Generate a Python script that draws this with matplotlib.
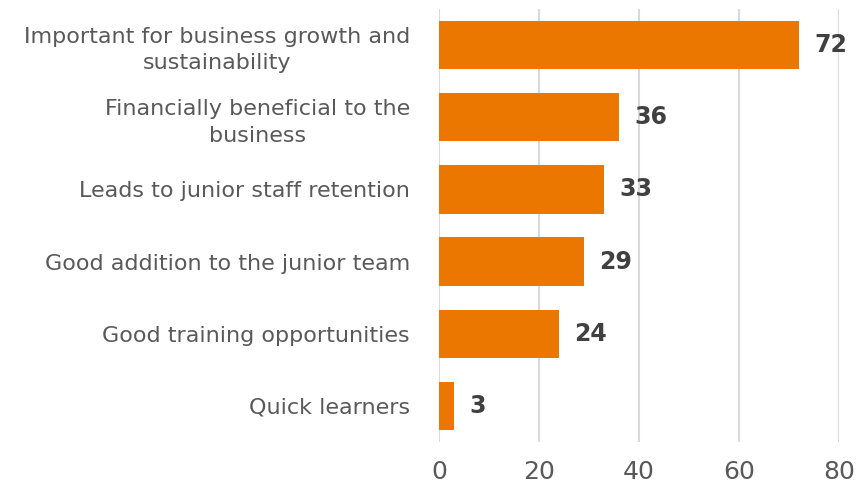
import matplotlib.pyplot as plt

categories = [
    "Important for business growth and\nsustainability",
    "Financially beneficial to the\nbusiness",
    "Leads to junior staff retention",
    "Good addition to the junior team",
    "Good training opportunities",
    "Quick learners",
]
values = [72, 36, 33, 29, 24, 3]
x_ticks = [0, 20, 40, 60, 80]

bar_color = "#EC7700"
label_color = "#595959"
value_color = "#404040"

fig = plt.figure(figsize=(8.58, 4.88), dpi=100)
ax = fig.add_axes([0.5117, 0.0943, 0.4662, 0.8873])

pos = list(range(len(categories)))
ax.barh(pos, values, height=0.67, color=bar_color, zorder=3)
for y, v in zip(pos, values):
    ax.text(v + 3, y, str(v), va="center", ha="left", fontsize=17,
            fontweight="bold", color=value_color)

ax.set_ylim(len(categories) - 0.5, -0.5)
ax.set_xlim(0, 80)
ax.set_xticks(x_ticks)
ax.set_yticks(pos)
ax.set_yticklabels(categories, fontsize=16, color=label_color, ha="right",
                   multialignment="center", linespacing=1.4)
ax.tick_params(axis="y", length=0, pad=21)
ax.tick_params(axis="x", length=0, pad=13, labelsize=18, labelcolor=label_color)
ax.grid(axis="x", color="#d9d9d9", linewidth=1.5, zorder=0)
for s in ax.spines.values():
    s.set_visible(False)

fig.savefig("out.png", dpi=100)
